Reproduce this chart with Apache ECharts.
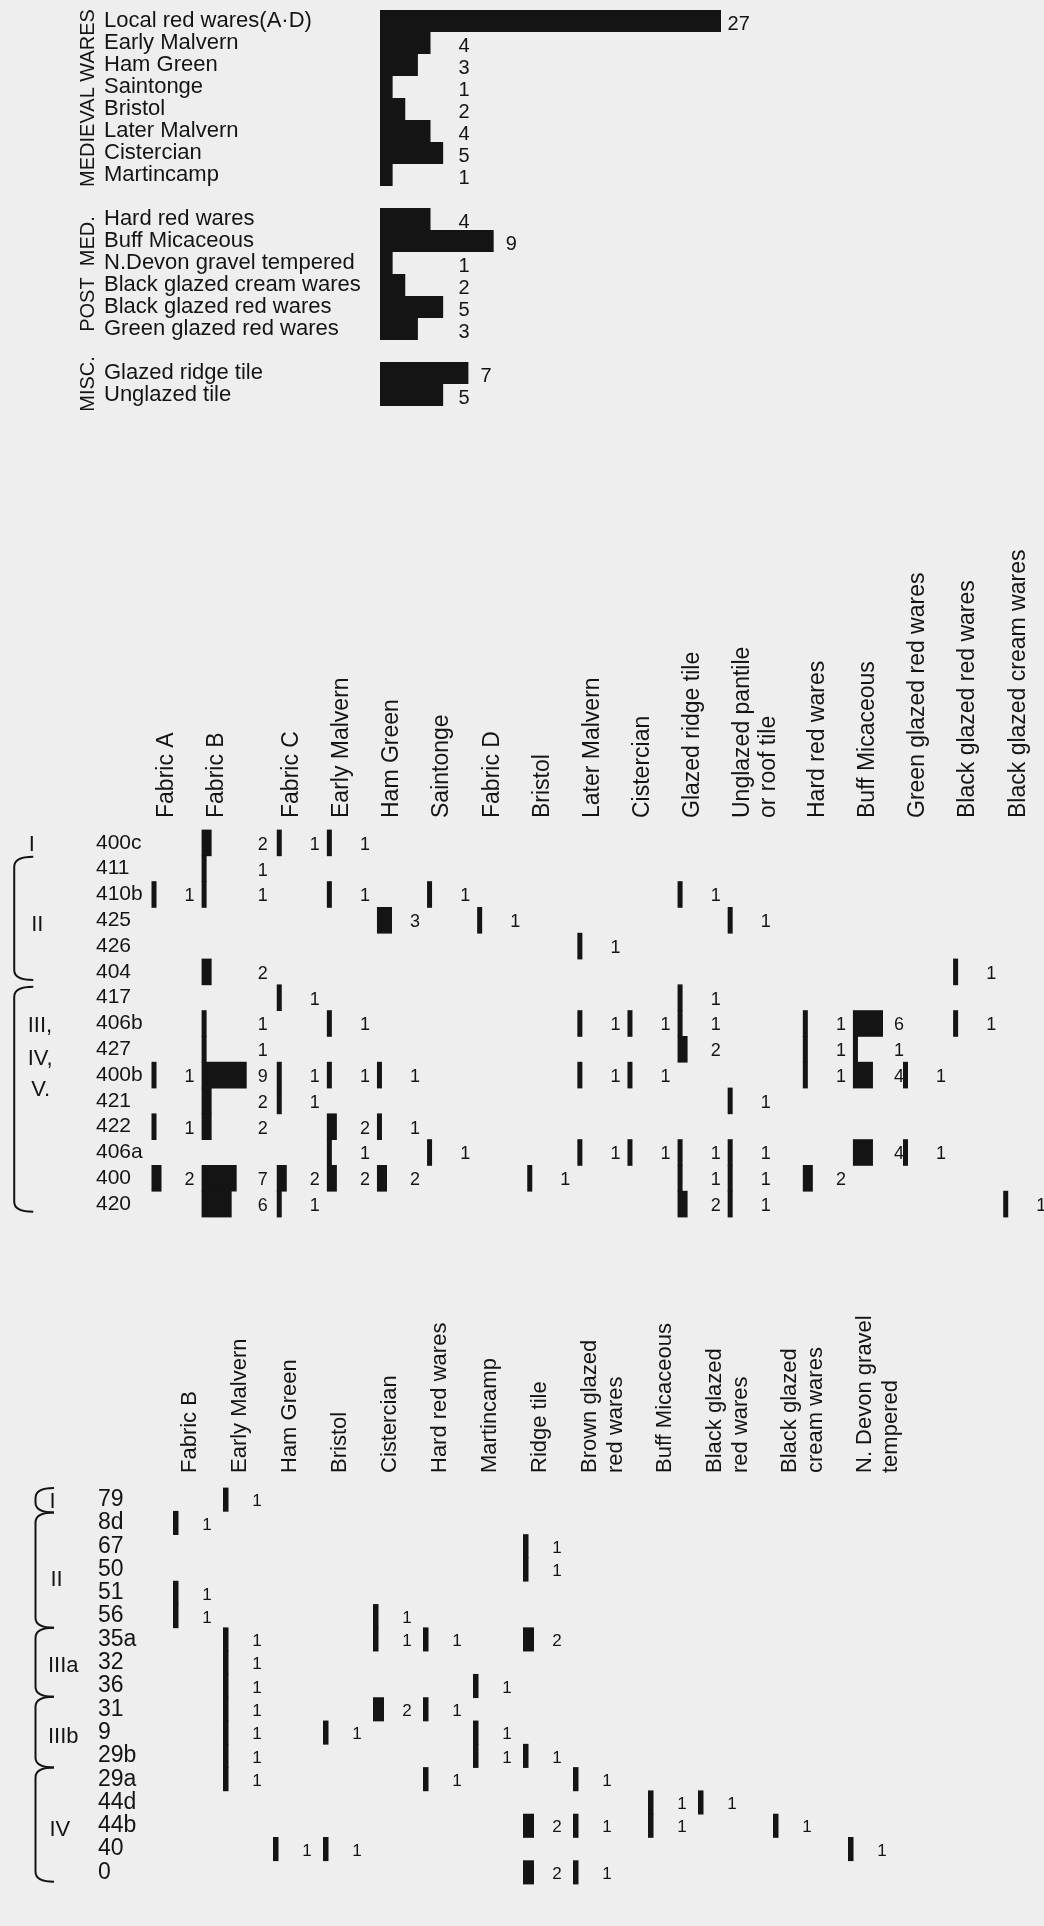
<!DOCTYPE html>
<html>
<head>
<meta charset="utf-8">
<script src="https://cdn.jsdelivr.net/npm/echarts@6/dist/echarts.min.js"></script>
<style>
  html, body { margin: 0; padding: 0; background: #eeeeee; }
  #chart { width: 1044px; height: 1926px; }
</style>
</head>
<body>
<div id="chart"></div>
<script>
// ---- summary of wares ----
const medievalWares = ['Local red wares(A·D)', 'Early Malvern', 'Ham Green', 'Saintonge', 'Bristol', 'Later Malvern', 'Cistercian', 'Martincamp'];
const medievalCounts = [27, 4, 3, 1, 2, 4, 5, 1];
const postMedWares = ['Hard red wares', 'Buff Micaceous', 'N.Devon gravel tempered', 'Black glazed cream wares', 'Black glazed red wares', 'Green glazed red wares'];
const postMedCounts = [4, 9, 1, 2, 5, 3];
const miscWares = ['Glazed ridge tile', 'Unglazed tile'];
const miscCounts = [7, 5];

// ---- upper site: contexts by ware ----
const siteAContexts = ['400c', '411', '410b', '425', '426', '404', '417', '406b', '427', '400b', '421', '422', '406a', '400', '420'];
const siteAWares = ['Fabric A', 'Fabric B', 'Fabric C', 'Early Malvern', 'Ham Green', 'Saintonge', 'Fabric D', 'Bristol',
  'Later Malvern', 'Cistercian', 'Glazed ridge tile', 'Unglazed pantile\nor roof tile', 'Hard red wares', 'Buff Micaceous',
  'Green glazed red wares', 'Black glazed red wares', 'Black glazed cream wares'];
const siteACounts = [
  // A  B  C  EM HG Sa D  Br LM Ci GR UP HR BM GG BR BC
  [0, 2, 1, 1, 0, 0, 0, 0, 0, 0, 0, 0, 0, 0, 0, 0, 0], // 400c
  [0, 1, 0, 0, 0, 0, 0, 0, 0, 0, 0, 0, 0, 0, 0, 0, 0], // 411
  [1, 1, 0, 1, 0, 1, 0, 0, 0, 0, 1, 0, 0, 0, 0, 0, 0], // 410b
  [0, 0, 0, 0, 3, 0, 1, 0, 0, 0, 0, 1, 0, 0, 0, 0, 0], // 425
  [0, 0, 0, 0, 0, 0, 0, 0, 1, 0, 0, 0, 0, 0, 0, 0, 0], // 426
  [0, 2, 0, 0, 0, 0, 0, 0, 0, 0, 0, 0, 0, 0, 0, 1, 0], // 404
  [0, 0, 1, 0, 0, 0, 0, 0, 0, 0, 1, 0, 0, 0, 0, 0, 0], // 417
  [0, 1, 0, 1, 0, 0, 0, 0, 1, 1, 1, 0, 1, 6, 0, 1, 0], // 406b
  [0, 1, 0, 0, 0, 0, 0, 0, 0, 0, 2, 0, 1, 1, 0, 0, 0], // 427
  [1, 9, 1, 1, 1, 0, 0, 0, 1, 1, 0, 0, 1, 4, 1, 0, 0], // 400b
  [0, 2, 1, 0, 0, 0, 0, 0, 0, 0, 0, 1, 0, 0, 0, 0, 0], // 421
  [1, 2, 0, 2, 1, 0, 0, 0, 0, 0, 0, 0, 0, 0, 0, 0, 0], // 422
  [0, 0, 0, 1, 0, 1, 0, 0, 1, 1, 1, 1, 0, 4, 1, 0, 0], // 406a
  [2, 7, 2, 2, 2, 0, 0, 1, 0, 0, 1, 1, 2, 0, 0, 0, 0], // 400
  [0, 6, 1, 0, 0, 0, 0, 0, 0, 0, 2, 1, 0, 0, 0, 0, 1]  // 420
];
const siteAPhaseNames = ['I', 'II', 'III,', 'IV,', 'V.'];
const siteAPhaseRows = [0, 3.1, 7, 8.3, 9.5];
const siteABrackets = [[0.54, 5.31], [5.58, 14.3]];

// ---- lower site: contexts by ware ----
const siteBContexts = ['79', '8d', '67', '50', '51', '56', '35a', '32', '36', '31', '9', '29b', '29a', '44d', '44b', '40', '0'];
const siteBWares = ['Fabric B', 'Early Malvern', 'Ham Green', 'Bristol', 'Cistercian', 'Hard red wares', 'Martincamp', 'Ridge tile',
  'Brown glazed\nred wares', 'Buff Micaceous', 'Black glazed\nred wares', 'Black glazed\ncream wares', 'N. Devon gravel\ntempered'];
const siteBCounts = [
  // FB EM HG Br Ci HR Ma Ri Bn BM BR BC ND
  [0, 1, 0, 0, 0, 0, 0, 0, 0, 0, 0, 0, 0], // 79
  [1, 0, 0, 0, 0, 0, 0, 0, 0, 0, 0, 0, 0], // 8d
  [0, 0, 0, 0, 0, 0, 0, 1, 0, 0, 0, 0, 0], // 67
  [0, 0, 0, 0, 0, 0, 0, 1, 0, 0, 0, 0, 0], // 50
  [1, 0, 0, 0, 0, 0, 0, 0, 0, 0, 0, 0, 0], // 51
  [1, 0, 0, 0, 1, 0, 0, 0, 0, 0, 0, 0, 0], // 56
  [0, 1, 0, 0, 1, 1, 0, 2, 0, 0, 0, 0, 0], // 35a
  [0, 1, 0, 0, 0, 0, 0, 0, 0, 0, 0, 0, 0], // 32
  [0, 1, 0, 0, 0, 0, 1, 0, 0, 0, 0, 0, 0], // 36
  [0, 1, 0, 0, 2, 1, 0, 0, 0, 0, 0, 0, 0], // 31
  [0, 1, 0, 1, 0, 0, 1, 0, 0, 0, 0, 0, 0], // 9
  [0, 1, 0, 0, 0, 0, 1, 1, 0, 0, 0, 0, 0], // 29b
  [0, 1, 0, 0, 0, 1, 0, 0, 1, 0, 0, 0, 0], // 29a
  [0, 0, 0, 0, 0, 0, 0, 0, 0, 1, 1, 0, 0], // 44d
  [0, 0, 0, 0, 0, 0, 0, 2, 1, 1, 0, 1, 0], // 44b
  [0, 0, 1, 1, 0, 0, 0, 0, 0, 0, 0, 0, 1], // 40
  [0, 0, 0, 0, 0, 0, 0, 2, 1, 0, 0, 0, 0]  // 0
];
const siteBPhaseNames = ['I', 'II', 'IIIa', 'IIIb', 'IV'];
const siteBPhaseRows = [0, 3.35, 7.05, 10.1, 14.1];
const siteBBrackets = [[-0.5, 0.55], [0.55, 5.5], [5.5, 8.46], [8.46, 11.5], [11.5, 16.4]];

// ---- layout ----
const ink = '#141414';
const font = '"Liberation Sans", Arial, Helvetica, sans-serif';
// column slot widths (1 = one ordinary column)
const siteASlots = [1, 1.5, 1, 1, 1, 1, 1, 1, 1, 1, 1, 1.5, 1, 1, 1, 1, 1];
const siteBSlots = [1, 1, 1, 1, 1, 1, 1, 1, 1.5, 1, 1.5, 1.5, 1];
const siteAPhaseX = [-2.45, -2.4, -2.47, -2.47, -2.4];
const siteBPhaseX = [-2.47, -2.45, -2.5, -2.5, -2.47];

function slotStarts(slots) {
  let acc = 0;
  return slots.map(function (s) { const v = acc; acc += s; return v; });
}
const siteAStarts = slotStarts(siteASlots);
const siteBStarts = slotStarts(siteBSlots);

function cellItems(counts) {
  const items = [];
  counts.forEach(function (row, r) {
    row.forEach(function (n, c) { if (n) items.push([c, r, n]); });
  });
  return items;
}

// number sits past the widest bar of its column
function numberOffsets(counts, unit, base) {
  return counts[0].map(function (_, c) {
    const widest = Math.max.apply(Math, counts.map(function (r) { return r[c]; }));
    return Math.max(base, widest * unit + 0.32);
  });
}

function cellSeries(gi, counts, starts, unit, base, numSize) {
  const offs = numberOffsets(counts, unit, base);
  return {
    type: 'custom', xAxisIndex: gi, yAxisIndex: gi, silent: true,
    data: cellItems(counts),
    renderItem: function (params, api) {
      const c = api.value(0), r = api.value(1), n = api.value(2);
      const a = api.coord([starts[c], r]);
      const b = api.coord([starts[c] + n * unit, r]);
      const t = api.coord([starts[c] + offs[c], r]);
      const h = api.size([0, 1])[1];
      return {
        type: 'group', children: [
          {type: 'rect', shape: {x: a[0], y: a[1] - h / 2 - 0.4, width: b[0] - a[0], height: h + 0.8}, style: {fill: ink}},
          {type: 'text', x: t[0], y: t[1] + 2, style: {text: String(n), fill: ink, fontSize: numSize, fontFamily: font, align: 'center', verticalAlign: 'middle'}}
        ]
      };
    }
  };
}

function headerSeries(gi, wares, starts, shift, gap, size) {
  return {
    type: 'custom', xAxisIndex: gi, yAxisIndex: gi, silent: true,
    data: wares.map(function (w, i) { return [i, 0]; }),
    renderItem: function (params, api) {
      const i = api.value(0);
      const p = api.coord([starts[i] + shift, 0]);
      const bottom = p[1] - api.size([0, 1])[1] / 2 - gap;
      return {
        type: 'text', x: p[0] - 13, y: bottom, rotation: Math.PI / 2,
        style: {text: wares[i], fill: ink, fontSize: size, fontFamily: font, align: 'left', verticalAlign: 'top', lineHeight: 26}
      };
    }
  };
}

function bracketSeries(gi, spans, spineX, hookX) {
  return {
    type: 'custom', xAxisIndex: gi, yAxisIndex: gi, silent: true,
    data: spans.map(function (s, i) { return [i]; }),
    renderItem: function (params, api) {
      const s = spans[api.value(0)];
      const c0 = api.coord([spineX, 0]);
      const hx = api.coord([hookX, 0])[0];
      const h = api.size([0, 1])[1];
      const yT = c0[1] + s[0] * h, yB = c0[1] + s[1] * h, vx = c0[0], r = 10;
      return {
        type: 'path',
        shape: {pathData: 'M' + hx + ' ' + yT + 'Q' + vx + ' ' + yT + ' ' + vx + ' ' + (yT + r) +
          'L' + vx + ' ' + (yB - r) + 'Q' + vx + ' ' + yB + ' ' + hx + ' ' + yB},
        style: {stroke: ink, lineWidth: 2, fill: 'none'}
      };
    }
  };
}

function phaseSeries(gi, names, rows, xs) {
  return {
    type: 'custom', xAxisIndex: gi, yAxisIndex: gi, silent: true,
    data: names.map(function (n, i) { return [i]; }),
    renderItem: function (params, api) {
      const i = api.value(0);
      const c0 = api.coord([xs[i], 0]);
      const h = api.size([0, 1])[1];
      return {
        type: 'text', x: c0[0], y: c0[1] + rows[i] * h + 2,
        style: {text: names[i], fill: ink, fontSize: 22, fontFamily: font, align: 'left', verticalAlign: 'middle'}
      };
    }
  };
}

function summaryNumbers(gi, counts) {
  return {
    type: 'custom', xAxisIndex: gi, yAxisIndex: gi, silent: true,
    data: counts.map(function (v, i) { return [v, i]; }),
    renderItem: function (params, api) {
      const v = api.value(0);
      const p = api.coord([Math.max(6.65, v + 1.4), api.value(1)]);
      return {type: 'text', x: p[0], y: p[1] + 3, style: {text: String(v), fill: ink, fontSize: 20, fontFamily: font, align: 'center', verticalAlign: 'middle'}};
    }
  };
}

function summaryY(gi, names, title) {
  return {
    type: 'category', gridIndex: gi, inverse: true, data: names,
    axisLine: {show: false}, axisTick: {show: false}, splitLine: {show: false},
    axisLabel: {interval: 0, align: 'left', margin: 276, color: ink, fontSize: 22, fontFamily: font, padding: [6, 0, 0, 0]},
    name: title, nameLocation: 'middle', nameRotate: 90, nameGap: 282,
    nameTextStyle: {color: ink, fontSize: 20, fontFamily: font}
  };
}

function siteY(gi, contexts, margin, size) {
  return {
    type: 'category', gridIndex: gi, inverse: true, data: contexts,
    axisLine: {show: false}, axisTick: {show: false}, splitLine: {show: false},
    axisLabel: {interval: 0, align: 'left', margin: margin, color: ink, fontSize: size, fontFamily: font, padding: [4, 0, 0, 0]}
  };
}

function hiddenX(gi, max) {
  return {type: 'value', gridIndex: gi, min: 0, max: max, show: false};
}

const chart = echarts.init(document.getElementById('chart'));
const option = {
  backgroundColor: '#eeeeee',
  animation: false,
  grid: [
    {left: 380, top: 10, width: 341, height: 176, outerBoundsMode: 'none'},
    {left: 380, top: 208, width: 341, height: 132, outerBoundsMode: 'none'},
    {left: 380, top: 362, width: 341, height: 44, outerBoundsMode: 'none'},
    {left: 151.5, top: 830, width: 891.8, height: 387, outerBoundsMode: 'none'},
    {left: 173, top: 1488, width: 700, height: 396, outerBoundsMode: 'none'}
  ],
  xAxis: [hiddenX(0, 27), hiddenX(1, 27), hiddenX(2, 27), hiddenX(3, 17.8), hiddenX(4, 14)],
  yAxis: [
    summaryY(0, medievalWares, 'MEDIEVAL WARES'),
    summaryY(1, postMedWares, 'POST  MED.'),
    summaryY(2, miscWares, 'MISC.'),
    siteY(3, siteAContexts, 55.5, 21),
    siteY(4, siteBContexts, 75, 23)
  ],
  series: [
    {type: 'bar', xAxisIndex: 0, yAxisIndex: 0, data: medievalCounts, barWidth: '100%', itemStyle: {color: ink}, silent: true},
    {type: 'bar', xAxisIndex: 1, yAxisIndex: 1, data: postMedCounts, barWidth: '100%', itemStyle: {color: ink}, silent: true},
    {type: 'bar', xAxisIndex: 2, yAxisIndex: 2, data: miscCounts, barWidth: '100%', itemStyle: {color: ink}, silent: true},
    summaryNumbers(0, medievalCounts),
    summaryNumbers(1, postMedCounts),
    summaryNumbers(2, miscCounts),
    cellSeries(3, siteACounts, siteAStarts, 0.1, 0.76, 18),
    headerSeries(3, siteAWares, siteAStarts, 0.3, 12, 23),
    bracketSeries(3, siteABrackets, -2.74, -2.36),
    phaseSeries(3, siteAPhaseNames, siteAPhaseRows, siteAPhaseX),
    cellSeries(4, siteBCounts, siteBStarts, 0.11, 0.68, 17),
    headerSeries(4, siteBWares, siteBStarts, 0.34, 15, 22),
    bracketSeries(4, siteBBrackets, -2.75, -2.38),
    phaseSeries(4, siteBPhaseNames, siteBPhaseRows, siteBPhaseX)
  ]
};
chart.setOption(option);
</script>
</body>
</html>
